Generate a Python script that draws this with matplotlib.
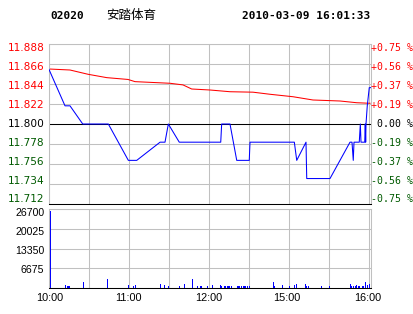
import matplotlib
matplotlib.use("Agg")
import matplotlib.pyplot as plt
import numpy as np

# ---------------- data ----------------
prev_close = 11.800
price_ticks = [11.712, 11.734, 11.756, 11.778, 11.800, 11.822, 11.844, 11.866, 11.888]
pct_labels = ["-0.75 %", "-0.56 %", "-0.37 %", "-0.19 %", " 0.00 %",
              "+0.19 %", "+0.37 %", "+0.56 %", "+0.75 %"]
vol_ticks = [0, 6675, 13350, 20025, 26700]
time_ticks = [0, 60, 120, 180, 240]
time_labels = ["10:00", "11:00", "12:00", "15:00", "16:00"]

# price line (trading minutes since 10:00, price)
price_t = [0, 12, 15.75, 25.3, 44.5, 59.5, 65.8, 83.3, 87, 89.5, 97.7, 128.8,
           129.5, 135.75, 140.8, 150.2, 150.75, 184, 185.8, 192.75, 193.3,
           210.75, 225.75, 227.25, 228.2, 228.75, 232.7, 233.5, 234, 236.8,
           237.2, 237.5, 237.75, 238.7, 240.2, 241.5]
price_v = [11.86, 11.82, 11.82, 11.80, 11.80, 11.76, 11.76, 11.78, 11.78, 11.80,
           11.78, 11.78, 11.80, 11.80, 11.76, 11.76, 11.78, 11.78, 11.76, 11.78,
           11.74, 11.74, 11.78, 11.78, 11.76, 11.78, 11.78, 11.80, 11.78, 11.78,
           11.80, 11.78, 11.80, 11.82, 11.84, 11.84]

# average price line
avg_t = [0, 15.75, 29.25, 43.3, 59.25, 64.5, 90.75, 100.5, 107, 120.75, 135.75,
         153, 165.75, 183, 198, 218.25, 230.8, 240.75]
avg_v = [11.8605, 11.8594, 11.8547, 11.851, 11.849, 11.8466, 11.8448, 11.843,
         11.8385, 11.8374, 11.8355, 11.835, 11.8327, 11.830, 11.8264, 11.8253,
         11.8234, 11.8228]

# volume bars
vol_t = [1, 12.2, 14, 14.8, 15.5, 25.7, 43.7, 59.5, 63.2, 64.7, 83.5, 86.5, 89.5,
         97.7, 101.5, 107.5, 111.2, 113.5, 114.2, 118.7, 122.5, 128.5, 129.2,
         131.25, 132.2, 133.5, 134.5, 135.5, 136.5, 141.2, 142, 143.2, 144.2,
         145.5, 146.5, 147.7, 148.7, 150, 168.2, 169, 175, 180.2, 184, 185.5,
         192.2, 193.3, 194.5, 204.2, 210.2, 226, 227.2, 228.4, 229.5, 230.5,
         231.8, 232.9, 234.8, 235.9, 237.2, 238.7, 240.2]
vol_v = [26000, 1000, 700, 700, 700, 2000, 3100, 1000, 700, 1000, 1350, 1000, 700,
         700, 1350, 3000, 700, 700, 700, 700, 1000, 1000, 700,
         700, 700, 700, 700, 700, 700, 700, 700, 700, 700,
         700, 700, 700, 700, 700, 2000, 700, 1000, 700, 1000, 1350,
         1350, 700, 700, 700, 700, 1350, 700, 700, 700, 1000,
         700, 700, 700, 700, 2000, 1000, 1350]

# ---------------- style ----------------
RED = "#ff0000"
GREEN = "#005a00"
BLUE = "#0000ff"
GRID = "#c0c0c0"
LW = 0.75
FW, FH = 414, 314


def fx(px):
    return px / FW


def fy(py):
    return 1 - py / FH


fig = plt.figure(figsize=(4.14, 3.14), dpi=100)
fig.patch.set_facecolor("white")

XMAX = 241.5
L = fx(49)
W = 322 / FW

# main price axes
ax = fig.add_axes([L, fy(204), W, 160 / FH])
ax.set_xlim(0, XMAX)
ax.set_ylim(price_ticks[0], price_ticks[-1])
for t in np.arange(0, 241, 30):
    ax.axvline(t, color=GRID, lw=LW, zorder=0)
for y in price_ticks:
    ax.axhline(y, color=GRID, lw=LW, zorder=0)
ax.axhline(prev_close, color="black", lw=LW, zorder=1)
ax.plot(avg_t, avg_v, color=RED, lw=LW, zorder=2)
ax.plot(price_t, price_v, color=BLUE, lw=LW, zorder=3)
for s in ["top", "left", "right"]:
    ax.spines[s].set_color(GRID)
    ax.spines[s].set_linewidth(LW)
ax.spines["bottom"].set_color("black")
ax.spines["bottom"].set_linewidth(LW)
ax.set_xticks([])
ax.set_yticks([])

# price labels (left) and percent labels (right), slightly inset like the original
n = len(price_ticks)
for i, (v, txt) in enumerate(zip(price_ticks, pct_labels)):
    ypx = 199.5 - i * (199.5 - 47.8) / (n - 1)
    if v > prev_close + 1e-9:
        c = RED
    elif abs(v - prev_close) < 1e-9:
        c = "black"
    else:
        c = GREEN
    fig.text(fx(44.5), fy(ypx), f"{v:.3f}", ha="right", va="center", color=c,
             fontsize=7.6, family="DejaVu Sans")
    fig.text(fx(371.5), fy(ypx), txt, ha="left", va="center", color=c,
             fontsize=7.1, family="DejaVu Sans Mono")

# volume axes
axv = fig.add_axes([L, fy(288), W, 79 / FH])
axv.set_xlim(0, XMAX)
axv.set_ylim(0, vol_ticks[-1])
for t in np.arange(0, 241, 30):
    axv.axvline(t, color=GRID, lw=LW, zorder=0)
for y in vol_ticks:
    axv.axhline(y, color=GRID, lw=LW, zorder=0)
axv.bar(vol_t, vol_v, width=0.75, color=BLUE, align="center", zorder=2, linewidth=0)
for s in ["top", "left", "right"]:
    axv.spines[s].set_color(GRID)
    axv.spines[s].set_linewidth(LW)
axv.spines["bottom"].set_color("black")
axv.spines["bottom"].set_linewidth(LW)
axv.set_xticks([])
axv.set_yticks([])

vol_label_px = [270, 251, 232, 213]
for v, ypx in zip(vol_ticks[1:], vol_label_px):
    fig.text(fx(44.5), fy(ypx), str(v), ha="right", va="center", color="black",
             fontsize=7.6, family="Liberation Sans")

time_label_px = [50, 128, 209, 287, 368]
for lab, xpx in zip(time_labels, time_label_px):
    fig.text(fx(xpx), fy(298), lab, ha="center", va="center", color="black",
             fontsize=7.8, family="Liberation Sans")

# header
fig.text(fx(50), fy(16), "02020", fontsize=8, fontweight="bold",
         family="DejaVu Sans Mono", ha="left", va="center")
fig.text(fx(106), fy(16), "安踏体育", fontsize=9,
         family=["Noto Sans CJK SC", "DejaVu Sans"], ha="left", va="center")
fig.text(fx(370), fy(16), "2010-03-09 16:01:33", fontsize=8,
         fontweight="bold", family="DejaVu Sans Mono", ha="right", va="center")

fig.savefig("out.png", dpi=100, facecolor="white")
